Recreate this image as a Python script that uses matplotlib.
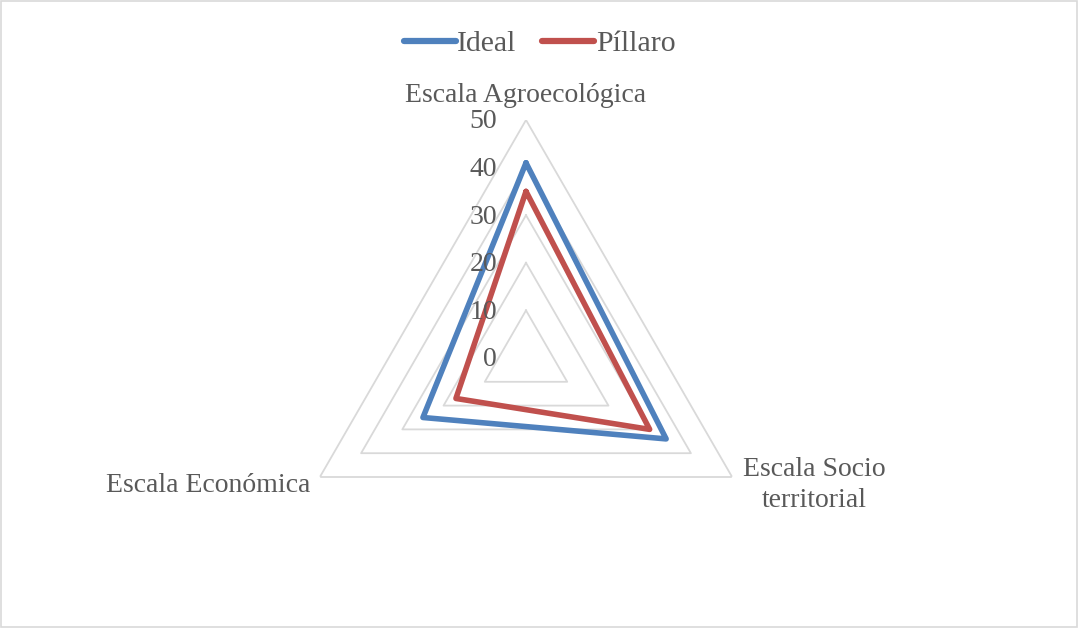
import numpy as np
import matplotlib.pyplot as plt
from matplotlib.patches import Rectangle

plt.rcParams['font.family'] = ['Liberation Serif', 'DejaVu Serif']

categories = ["Escala Agroecológica", "Escala Socio\nterritorial", "Escala Económica"]
ideal = [41, 34, 25]
pillaro = [35, 30, 17]
levels = [10, 20, 30, 40, 50]
tick_labels = ["0", "10", "20", "30", "40", "50"]

txt = '#595959'
grid_c = '#d9d9d9'

fig = plt.figure(figsize=(10.79, 6.28), dpi=100)
fig.patches.append(Rectangle((0.0005, 0.001), 0.998, 0.997, transform=fig.transFigure,
                             fill=False, edgecolor=grid_c, linewidth=1.2))

ax = fig.add_axes([288 / 1079, 32 / 628, 476 / 1079, 476 / 628], projection='polar')
ax.set_theta_zero_location('N')
ax.set_theta_direction(-1)
ax.set_ylim(0, 50)
ax.grid(False)
ax.spines['polar'].set_visible(False)
ax.set_xticks([])
ax.set_yticks([])
ax.patch.set_alpha(0)

angles = np.linspace(0, 2 * np.pi, len(categories), endpoint=False)
closed = np.append(angles, angles[0])

# triangular grid rings
for lv in levels:
    ax.plot(closed, [lv] * len(closed), color=grid_c, lw=1.3, zorder=1)

def close(vals):
    return list(vals) + [vals[0]]

l1, = ax.plot(closed, close(ideal), color='#4f81bd', lw=4, solid_joinstyle='round',
              solid_capstyle='round', label='Ideal', zorder=3)
l2, = ax.plot(closed, close(pillaro), color='#c0504d', lw=4, solid_joinstyle='round',
              solid_capstyle='round', label='Píllaro', zorder=3)

# radial value labels along the top spoke
for i, lab in enumerate(tick_labels):
    ax.annotate(lab, xy=(0, i * 10), xytext=(-29, -2), textcoords='offset pixels',
                ha='right', va='center', fontsize=20, color=txt, annotation_clip=False)

# category labels
ax.annotate(categories[0], xy=(angles[0], 50), xytext=(0, 25), textcoords='offset pixels',
            ha='center', va='center', fontsize=20, color=txt, annotation_clip=False)
ax.annotate(categories[1], xy=(angles[1], 50), xytext=(82, -8), textcoords='offset pixels',
            ha='center', va='center', multialignment='center', linespacing=1.3,
            fontsize=20, color=txt, annotation_clip=False)
ax.annotate(categories[2], xy=(angles[2], 50), xytext=(-10, -8), textcoords='offset pixels',
            ha='right', va='center', fontsize=20, color=txt, annotation_clip=False)

leg = fig.legend(handles=[l1, l2], loc='center', bbox_to_anchor=(0.5, 1 - 44 / 628), ncol=2,
                 frameon=False, fontsize=21.5, handlelength=1.75, handletextpad=0.05,
                 columnspacing=0.85)
for t in leg.get_texts():
    t.set_color(txt)
for h in leg.legend_handles:
    h.set_linewidth(4.5)

fig.savefig('out.png', dpi=100, facecolor='white')
